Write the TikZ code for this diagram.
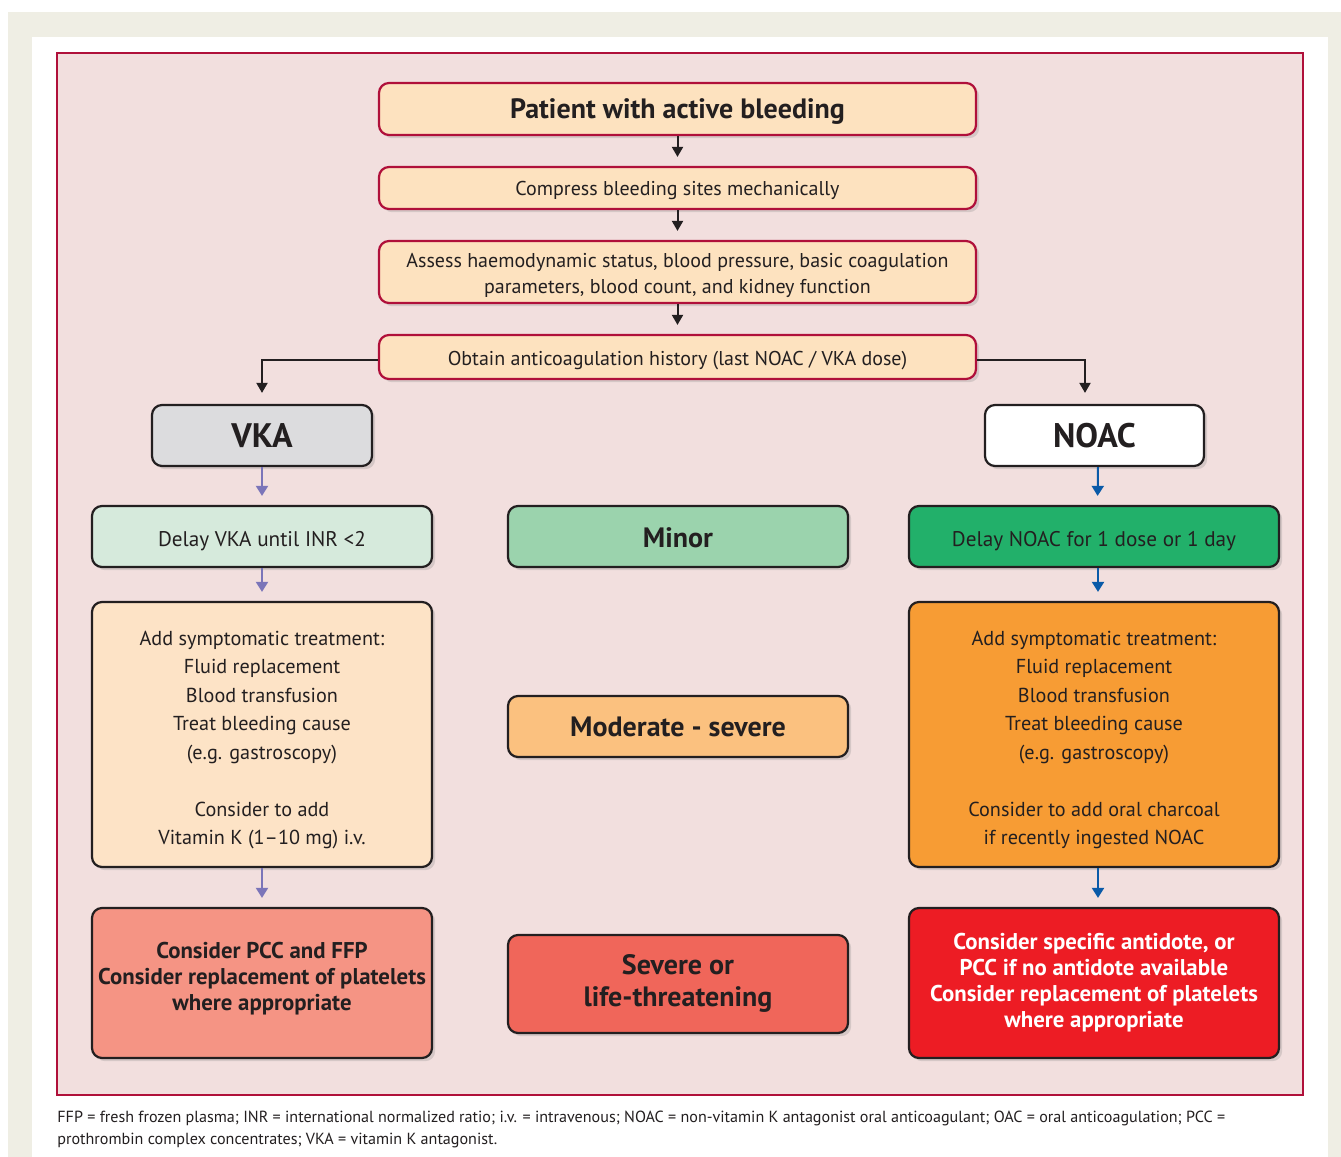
\documentclass[tikz,border=0pt]{standalone}
\usepackage{fontspec}
\setmainfont{PT Sans}
\usetikzlibrary{shadows,arrows.meta}
\definecolor{beige}{HTML}{EFEEE4}
\definecolor{pinkbg}{HTML}{F2DFDE}
\definecolor{crim}{HTML}{B0103A}
\definecolor{peach}{HTML}{FDE2BF}
\definecolor{grayfill}{HTML}{DCDCDE}
\definecolor{dark}{HTML}{231F20}
\definecolor{lgreen}{HTML}{D6EADC}
\definecolor{mgreen}{HTML}{9BD3AD}
\definecolor{dgreen}{HTML}{22B06A}
\definecolor{peachtwo}{HTML}{FDE3C6}
\definecolor{lorange}{HTML}{FBC17F}
\definecolor{orange}{HTML}{F79C34}
\definecolor{salmon}{HTML}{F59484}
\definecolor{sred}{HTML}{F0665A}
\definecolor{bred}{HTML}{ED1C24}
\definecolor{purp}{HTML}{7B75B9}
\definecolor{blu}{HTML}{0A5AA8}
\newcommand\tx[2]{\raisebox{-#1}[\height][\depth]{\begin{tabular}{@{}c@{}}#2\end{tabular}}}
\begin{document}
\begin{tikzpicture}[x=0.5pt,y=-0.5pt,
  box/.style={rounded corners=5pt, line width=1.1pt, align=center, inner sep=2pt,
    text=dark, font=\fontsize{10}{13}\selectfont,
    drop shadow={shadow xshift=1.6pt,shadow yshift=-1.6pt,opacity=0.25}},
  redbox/.style={box, draw=crim, fill=peach},
  darkbox/.style={box, draw=dark},
  bigb/.style={font=\fontsize{17}{20}\selectfont\bfseries},
  midb/.style={font=\fontsize{14}{16}\selectfont\bfseries},
  smb/.style={font=\fontsize{11.4}{13}\selectfont\bfseries},
  barrow/.style={line width=1pt, draw=dark, -{Triangle[width=5.5pt,length=5pt]}, shorten >=4.5pt},
  parrow/.style={line width=1pt, draw=purp, -{Triangle[width=6pt,length=5pt]}, shorten >=4.5pt},
  blarrow/.style={line width=1pt, draw=blu, -{Triangle[width=6pt,length=5pt]}, shorten >=4.5pt},
  foot/.style={anchor=west, inner sep=0pt, text=dark, font=\fontsize{8.05}{9}\selectfont}
]
\useasboundingbox (0,0) rectangle (1341,1157);
\fill[beige] (8,12) rectangle (1341,1157);
\fill[white] (32,37) rectangle (1328,1157);
\draw[fill=pinkbg, draw=crim, line width=0.6pt] (57,53) rectangle (1303,1095);

\node[redbox, minimum width=298.5pt, minimum height=26pt, font=\fontsize{14}{16}\selectfont\bfseries] (pat) at (677.5,109) {\tx{1.5pt}{Patient with active bleeding}};
\node[redbox, minimum width=298.5pt, minimum height=21pt] (comp) at (677.5,188) {\tx{1pt}{Compress bleeding sites mechanically}};
\node[redbox, minimum width=298.5pt, minimum height=31pt] (ass) at (677.5,272) {\tx{1.5pt}{Assess haemodynamic status, blood pressure, basic coagulation\\parameters, blood count, and kidney function}};
\node[redbox, minimum width=298.5pt, minimum height=22pt] (obt) at (677.5,357) {\tx{1.5pt}{Obtain anticoagulation history (last NOAC / VKA dose)}};

\node[darkbox, fill=grayfill, bigb, minimum width=110pt, minimum height=30.5pt] (vka) at (262,435.5) {VKA};
\node[darkbox, fill=white, bigb, minimum width=109.5pt, minimum height=30.5pt] (noac) at (1094.5,435.5) {NOAC};

\node[darkbox, fill=lgreen, minimum width=170pt, minimum height=30.5pt, font=\fontsize{10.6}{13}\selectfont] (dvka) at (262,536.5) {\tx{2.5pt}{Delay VKA until INR <2}};
\node[darkbox, fill=mgreen, midb, minimum width=170pt, minimum height=30.5pt] (minor) at (678,536.5) {\tx{2.5pt}{Minor}};
\node[darkbox, fill=dgreen, minimum width=185pt, minimum height=30.5pt, font=\fontsize{10.6}{13}\selectfont] (dnoac) at (1094,536.5) {\tx{2.5pt}{Delay NOAC for 1 dose or 1 day}};

\node[darkbox, fill=peachtwo, minimum width=170pt, minimum height=132.5pt, font=\fontsize{10.1}{14.25}\selectfont] (sympl) at (262,734.5) {\tx{2.5pt}{Add symptomatic treatment:\\Fluid replacement\\Blood transfusion\\Treat bleeding cause\\(e.g. gastroscopy)\\[14.25pt]Consider to add\\Vitamin K (1--10 mg) i.v.}};
\node[darkbox, fill=lorange, midb, minimum width=170pt, minimum height=30.5pt] (mod) at (678,726.5) {Moderate - severe};
\node[darkbox, fill=orange, minimum width=185pt, minimum height=132.5pt, font=\fontsize{10.1}{14.25}\selectfont] (sympr) at (1094,734.5) {\tx{2.5pt}{Add symptomatic treatment:\\Fluid replacement\\Blood transfusion\\Treat bleeding cause\\(e.g. gastroscopy)\\[14.25pt]Consider to add oral charcoal\\if recently ingested NOAC}};

\node[darkbox, fill=salmon, smb, minimum width=170pt, minimum height=75pt] (pccl) at (262,983) {\tx{-2pt}{Consider PCC and FFP\\Consider replacement of platelets\\where appropriate}};
\node[darkbox, fill=sred, midb, minimum width=170pt, minimum height=49pt] (sev) at (678,984) {\tx{0pt}{Severe or\\life-threatening}};
\node[darkbox, fill=bred, smb, text=white, minimum width=185pt, minimum height=75pt] (antr) at (1094,983) {\tx{0pt}{Consider specific antidote, or\\PCC if no antidote available\\Consider replacement of platelets\\where appropriate}};

\draw[barrow] (pat) -- (comp);
\draw[barrow] (comp) -- (ass);
\draw[barrow] (ass) -- (obt);
\draw[barrow, shorten >=5.5pt] ([yshift=-1.5pt]obt.west) -| (vka.north);
\draw[barrow, shorten >=5.5pt] ([yshift=-1.5pt]obt.east) -| ([xshift=-4.75pt]noac.north);

\draw[parrow] (vka) -- (dvka);
\draw[parrow] (dvka) -- (sympl);
\draw[parrow] (sympl) -- (pccl);
\draw[blarrow] ([xshift=1.75pt]noac.south) -- ([xshift=1.75pt]dnoac.north);
\draw[blarrow] ([xshift=2pt]dnoac.south) -- ([xshift=2pt]sympr.north);
\draw[blarrow] ([xshift=2pt]sympr.south) -- ([xshift=2pt]antr.north);

\node[foot] (f1) at (57,1118.5) {FFP = fresh frozen plasma; INR = international normalized ratio; i.v. = intravenous; NOAC = non-vitamin K antagonist oral anticoagulant; OAC = oral anticoagulation; PCC =};
\node[foot] (f2) at (57,1140.5) {prothrombin complex concentrates; VKA = vitamin K antagonist.};
\end{tikzpicture}
\end{document}
